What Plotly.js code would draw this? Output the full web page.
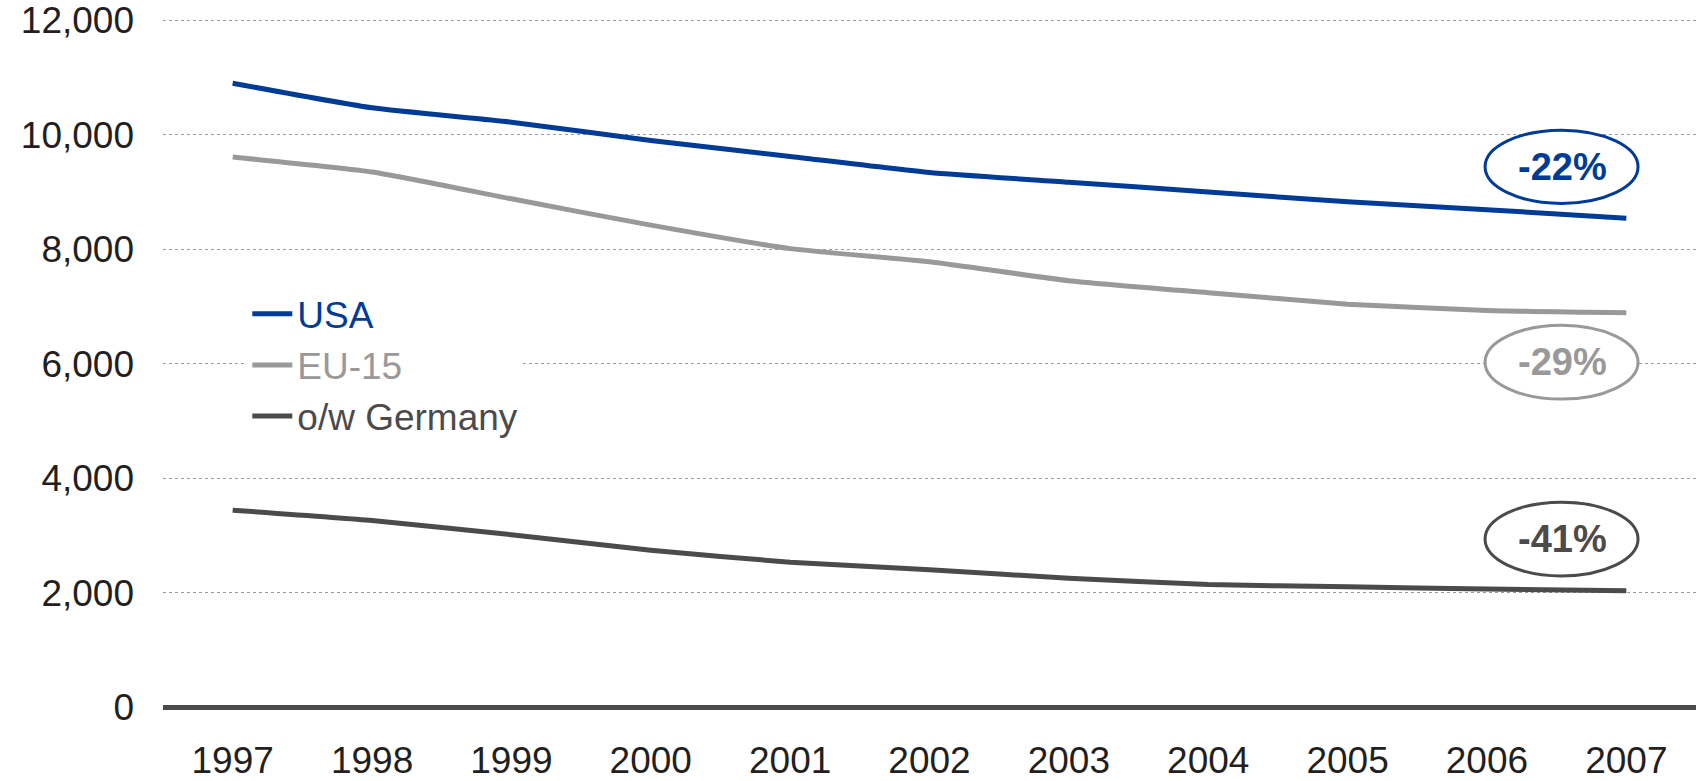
<!DOCTYPE html>
<html>
<head>
<meta charset="utf-8">
<script src="https://cdn.plot.ly/plotly-3.0.1.min.js"></script>
<style>html,body{margin:0;padding:0;background:#fff;}#chart{width:1698px;height:781px;}</style>
</head>
<body>
<div id="chart"></div>
<script>
const years = ['1997','1998','1999','2000','2001','2002','2003','2004','2005','2006','2007'];
const usa = [10900, 10470, 10220, 9900, 9620, 9340, 9170, 9000, 8830, 8690, 8540];
const eu15 = [9610, 9350, 8880, 8420, 8010, 7780, 7450, 7240, 7040, 6930, 6890];
const germany = [3440, 3260, 3010, 2740, 2530, 2400, 2250, 2140, 2100, 2060, 2030];
const seriesNames = ['USA', 'EU-15', 'o/w Germany'];
const changeLabels = ['-22%', '-29%', '-41%'];
const yTicks = [0, 2000, 4000, 6000, 8000, 10000, 12000];

const colors = ['#003c96', '#999999', '#4d4a4a'];
const font = 'Arial, "Liberation Sans", sans-serif';

const traces = [usa, eu15, germany].map((vals, i) => ({
  type: 'scatter', mode: 'lines', x: years, y: vals, name: seriesNames[i],
  line: {color: colors[i], width: 5, shape: 'spline', smoothing: 0.5},
  hoverinfo: 'skip'
}));

// ellipse y-ranges (data units) for the change badges
const badgeY = [[8800, 10080], [5380, 6670], [2290, 3580]];
const shapes = badgeY.map((b, i) => ({
  type: 'circle', xref: 'paper', yref: 'y', x0: 0.8624, x1: 0.9622, y0: b[0], y1: b[1],
  line: {color: colors[i], width: 3}, fillcolor: '#ffffff', layer: 'above'
}));
const annotations = badgeY.map((b, i) => ({
  xref: 'paper', yref: 'y', x: 0.9126, y: (b[0] + b[1]) / 2, text: '<b>' + changeLabels[i] + '</b>',
  showarrow: false, font: {family: font, size: 38, color: colors[i]}, xanchor: 'center', yanchor: 'middle'
}));

const layout = {
  width: 1698, height: 781,
  margin: {l: 163, r: 2, t: 18, b: 74},
  paper_bgcolor: '#ffffff', plot_bgcolor: '#ffffff',
  font: {family: font, color: '#231f20', size: 37},
  showlegend: true,
  legend: {
    x: 0.055, y: 0.615, xanchor: 'left', yanchor: 'top',
    bgcolor: '#ffffff', borderwidth: 0,
    font: {family: font, size: 37},
    itemwidth: 40, tracegroupgap: 0
  },
  xaxis: {
    type: 'category', range: [-0.5, 10.5], showgrid: false, zeroline: false, showline: false,
    ticks: '', tickfont: {family: font, size: 37, color: '#231f20'}, ticklabelstandoff: 28,
    fixedrange: true
  },
  yaxis: {
    range: [0, 12040], tickvals: yTicks, tickformat: ',d',
    showgrid: true, gridcolor: '#9a9a9a', gridwidth: 1, griddash: 'dot',
    zeroline: true, zerolinecolor: '#4d4a4a', zerolinewidth: 5, showline: false,
    ticks: '', tickfont: {family: font, size: 37, color: '#231f20'}, ticklabelstandoff: 28,
    fixedrange: true
  },
  shapes: shapes,
  annotations: annotations
};

Plotly.newPlot('chart', traces, layout, {displayModeBar: false, staticPlot: true}).then(() => {
  document.querySelectorAll('.legendtext').forEach((t, i) => { t.style.fill = colors[i]; });
});
</script>
</body>
</html>
